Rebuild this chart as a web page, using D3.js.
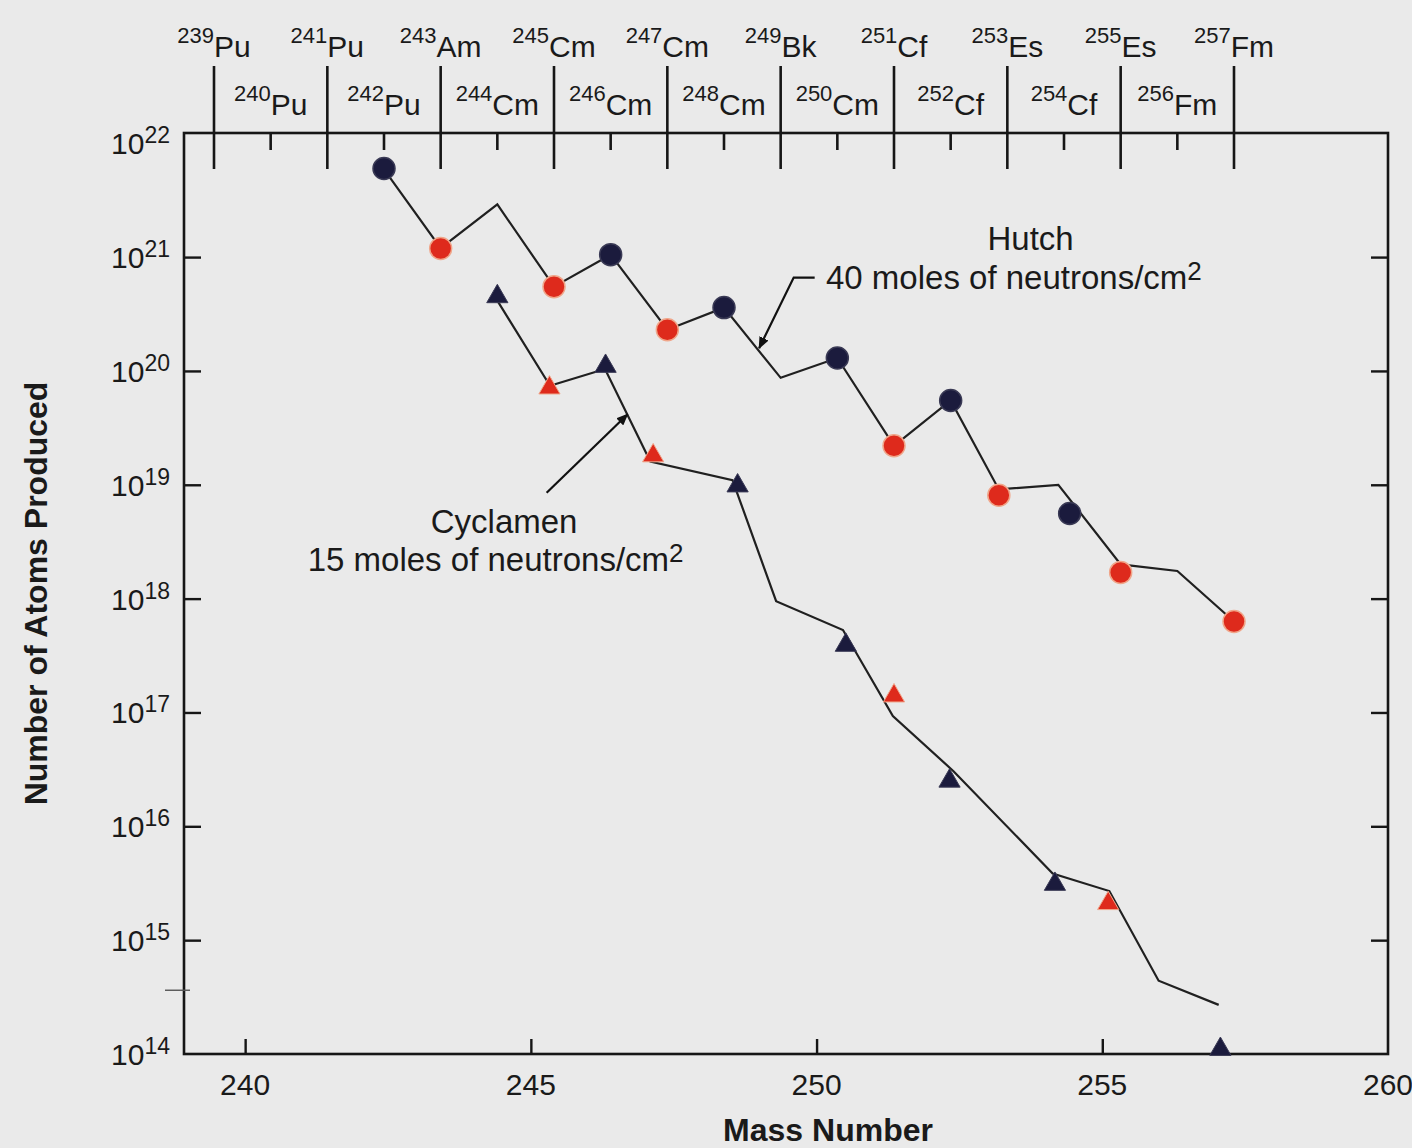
<!DOCTYPE html>
<html>
<head>
  <meta charset="utf-8">
  <script src="https://d3js.org/d3.v7.min.js"></script>
  <title>Atoms Produced by Mass Number</title>
  <style>
    body {margin: 0; background: #eaeaea;}
    svg {display: block; font-family: "Liberation Sans", Arial, Helvetica, sans-serif;}
  </style>
</head>
<body>
<div id="chart"></div>
<script>
  /* Hutch: 40 moles of neutrons/cm2 (line + measured points) */
  const hutchLineMass  = [242, 243, 244, 245, 246, 247, 248, 249, 250, 251, 252, 252.85, 253.9, 255, 256, 257];
  const hutchLineValue = [5.9e21, 1.2e21, 2.9e21, 5.5e20, 1.05e21, 2.3e20, 3.6e20, 8.7e19, 1.3e20, 2.2e19, 5.5e19, 9.1e18, 1.0e19, 2.0e18, 1.75e18, 6.3e17];
  const hutchPointMass  = [242, 243, 245, 246, 247, 248, 250, 251, 252, 252.85, 254.1, 255, 257];
  const hutchPointValue = [6.0e21, 1.19e21, 5.5e20, 1.05e21, 2.3e20, 3.6e20, 1.3e20, 2.2e19, 5.5e19, 8.1e18, 5.6e18, 1.7e18, 6.3e17];
  const hutchPointKind  = ["dark", "red", "red", "dark", "red", "dark", "dark", "red", "dark", "red", "dark", "red", "red"];

  /* Cyclamen: 15 moles of neutrons/cm2 */
  const cycLineMass  = [244, 244.93, 245.9, 246.7, 248.15, 248.92, 250.1, 250.98, 252.05, 253.8, 254.8, 255.67, 256.73];
  const cycLineValue = [4.15e20, 7.4e19, 1.04e20, 1.6e19, 1.1e19, 9.5e17, 5.3e17, 9.3e16, 3.05e16, 3.85e15, 2.7e15, 4.4e14, 2.7e14];
  const cycPointMass  = [244, 244.92, 245.91, 246.75, 248.24, 250.15, 251, 251.98, 253.84, 254.78, 256.76];
  const cycPointValue = [4.5e20, 7.1e19, 1.1e20, 1.8e19, 9.8e18, 3.9e17, 1.4e17, 2.5e16, 3.1e15, 2.1e15, 1.1e14];
  const cycPointKind  = ["dark", "red", "dark", "red", "dark", "dark", "red", "dark", "dark", "red", "dark"];

  /* top isotope axis */
  const isoMass   = [239, 240, 241, 242, 243, 244, 245, 246, 247, 248, 249, 250, 251, 252, 253, 254, 255, 256, 257];
  const isoSymbol = ["Pu", "Pu", "Pu", "Pu", "Am", "Cm", "Cm", "Cm", "Cm", "Cm", "Bk", "Cm", "Cf", "Cf", "Es", "Cf", "Es", "Fm", "Fm"];

  /* bottom / left axis ticks */
  const massTicks = [240, 245, 250, 255, 260];
  const powerTicks = [14, 15, 16, 17, 18, 19, 20, 21, 22];

  const W = 1412, H = 1148;
  const plot = {left: 184, right: 1388, top: 133, bottom: 1054};
  const colors = {dark: "#1b1b3d", red: "#de2a1c"};

  const svg = d3.select("#chart").append("svg")
      .attr("width", W).attr("height", H);

  svg.append("rect").attr("width", W).attr("height", H).attr("fill", "#eaeaea");

  /* scales: bottom mass-number axis and the isotope axis used by the data */
  const xMass = d3.scaleLinear().domain([238.93, 260]).range([plot.left, plot.right]);
  const xIso = d3.scaleLinear().domain([239, 257]).range([214, 1234]);
  const y = d3.scaleLog().domain([1e14, Math.pow(10, 22.09)]).range([plot.bottom, plot.top]);

  const ink = "#161616";

  /* frame */
  svg.append("rect")
     .attr("x", plot.left).attr("y", plot.top)
     .attr("width", plot.right - plot.left).attr("height", plot.bottom - plot.top)
     .attr("fill", "none").attr("stroke", ink).attr("stroke-width", 2.6);

  /* inward ticks on left and right */
  const innerPowers = powerTicks.slice(1, -1).map(p => Math.pow(10, p));
  svg.append("g").attr("transform", `translate(${plot.left},0)`)
     .call(d3.axisRight(y).tickValues(innerPowers).tickSize(17).tickFormat(""))
     .call(g => g.select(".domain").remove())
     .selectAll("line").attr("stroke", ink).attr("stroke-width", 2.4);
  svg.append("g").attr("transform", `translate(${plot.right},0)`)
     .call(d3.axisLeft(y).tickValues(innerPowers).tickSize(17).tickFormat(""))
     .call(g => g.select(".domain").remove())
     .selectAll("line").attr("stroke", ink).attr("stroke-width", 2.4);

  /* small stray tick crossing the left axis */
  svg.append("line")
     .attr("x1", plot.left - 19).attr("x2", plot.left + 6)
     .attr("y1", y(Math.pow(10, 14.56))).attr("y2", y(Math.pow(10, 14.56)))
     .attr("stroke", "#555").attr("stroke-width", 1.4);

  /* y labels 10^n */
  const yLab = svg.append("g").attr("text-anchor", "end").attr("fill", "#1a1a1a");
  powerTicks.forEach(p => {
    const t = yLab.append("text")
       .attr("x", plot.left - 14)
       .attr("y", y(Math.pow(10, p)) + 11)
       .attr("font-size", 30);
    t.append("tspan").text("10");
    t.append("tspan").attr("font-size", 23).attr("dy", -11).text(p);
  });

  /* bottom ticks and labels */
  svg.append("g").attr("transform", `translate(0,${plot.bottom})`)
     .call(d3.axisTop(xMass).tickValues(massTicks.slice(0, -1)).tickSize(15).tickFormat(""))
     .call(g => g.select(".domain").remove())
     .selectAll("line").attr("stroke", ink).attr("stroke-width", 2.4);
  svg.append("g").selectAll("text").data(massTicks).join("text")
     .attr("x", d => xMass(d)).attr("y", plot.bottom + 41)
     .attr("text-anchor", "middle").attr("font-size", 30).attr("fill", "#1a1a1a")
     .text(d => d);

  /* top isotope axis: long ticks at odd masses, short inner ticks at even masses */
  const iso = isoMass.map((m, i) => ({m, s: isoSymbol[i], odd: m % 2 === 1}));
  svg.append("g").selectAll("line").data(iso).join("line")
     .attr("x1", d => xIso(d.m)).attr("x2", d => xIso(d.m))
     .attr("y1", d => d.odd ? plot.top - 67 : plot.top)
     .attr("y2", d => d.odd ? plot.top + 36 : plot.top + 17)
     .attr("stroke", ink).attr("stroke-width", 2.6);

  const isoLab = svg.append("g").attr("text-anchor", "middle").attr("fill", "#1a1a1a");
  iso.forEach(d => {
    const t = isoLab.append("text")
       .attr("x", xIso(d.m))
       .attr("y", d.odd ? 57 : 115)
       .attr("font-size", 30);
    t.append("tspan").attr("font-size", 22).attr("dy", -14).text(d.m);
    t.append("tspan").attr("dy", 14).text(d.s);
  });

  /* lines */
  const line = d3.line().x(d => xIso(d[0])).y(d => y(d[1]));
  const hutchLine = hutchLineMass.map((m, i) => [m, hutchLineValue[i]]);
  const cycLine = cycLineMass.map((m, i) => [m, cycLineValue[i]]);
  [hutchLine, cycLine].forEach(pts => {
    svg.append("path").datum(pts)
       .attr("d", line)
       .attr("fill", "none").attr("stroke", "#202020").attr("stroke-width", 2.2)
       .attr("stroke-linejoin", "miter");
  });

  /* points */
  const hutchPts = hutchPointMass.map((m, i) => ({m, v: hutchPointValue[i], k: hutchPointKind[i]}));
  svg.append("g").selectAll("circle").data(hutchPts).join("circle")
     .attr("cx", d => xIso(d.m)).attr("cy", d => y(d.v)).attr("r", 11)
     .attr("fill", d => colors[d.k])
     .attr("stroke", d => d.k === "red" ? "#f0a68a" : "#3a3a55")
     .attr("stroke-width", 1.5);

  const cycPts = cycPointMass.map((m, i) => ({m, v: cycPointValue[i], k: cycPointKind[i]}));
  const tri = d3.symbol(d3.symbolTriangle, 195);
  svg.append("g").selectAll("path").data(cycPts).join("path")
     .attr("transform", d => `translate(${xIso(d.m)},${y(d.v)})`)
     .attr("d", tri)
     .attr("fill", d => colors[d.k])
     .attr("stroke", d => d.k === "red" ? "#f0a68a" : "#3a3a55")
     .attr("stroke-width", 1);

  /* arrowheads */
  svg.append("defs").append("marker")
     .attr("id", "arrow").attr("viewBox", "0 0 12 10")
     .attr("refX", 11).attr("refY", 5)
     .attr("markerWidth", 12).attr("markerHeight", 10)
     .attr("markerUnits", "userSpaceOnUse").attr("orient", "auto")
     .append("path").attr("d", "M0,0 L12,5 L0,10 Z").attr("fill", "#111");

  /* annotations (anchored in data units) */
  const hutchArrow = [[249.6, 20.82], [249.23, 20.82], [248.62, 20.2]];
  const cycArrow = [[244.87, 18.93], [246.3, 19.62]];
  const arrowLine = d3.line().x(d => xIso(d[0])).y(d => y(Math.pow(10, d[1])));
  [hutchArrow, cycArrow].forEach(a => {
    svg.append("path").attr("d", arrowLine(a))
       .attr("fill", "none").attr("stroke", "#111").attr("stroke-width", 2.2)
       .attr("marker-end", "url(#arrow)");
  });

  const ann = svg.append("g").attr("font-size", 33).attr("fill", "#1a1a1a");
  ann.append("text").attr("text-anchor", "middle")
     .attr("x", xIso(253.41)).attr("y", y(Math.pow(10, 21.066))).text("Hutch");
  const h2 = ann.append("text").attr("text-anchor", "start")
     .attr("x", xIso(249.8)).attr("y", y(Math.pow(10, 20.718)));
  h2.append("tspan").text("40 moles of neutrons/cm");
  h2.append("tspan").attr("font-size", 26).attr("dy", -9).text("2");

  ann.append("text").attr("text-anchor", "middle")
     .attr("x", xIso(244.12)).attr("y", y(Math.pow(10, 18.579))).text("Cyclamen");
  const c2 = ann.append("text").attr("text-anchor", "middle")
     .attr("x", xIso(243.97)).attr("y", y(Math.pow(10, 18.245)));
  c2.append("tspan").text("15 moles of neutrons/cm");
  c2.append("tspan").attr("font-size", 26).attr("dy", -9).text("2");

  /* axis titles */
  svg.append("text")
     .attr("x", xMass(250.2)).attr("y", 1141)
     .attr("text-anchor", "middle").attr("font-size", 32).attr("font-weight", "bold")
     .attr("fill", "#1a1a1a").text("Mass Number");
  svg.append("text")
     .attr("transform", `translate(47,${(plot.top + plot.bottom) / 2}) rotate(-90)`)
     .attr("text-anchor", "middle").attr("font-size", 32).attr("font-weight", "bold")
     .attr("fill", "#1a1a1a").text("Number of Atoms Produced");
</script>
</body>
</html>
